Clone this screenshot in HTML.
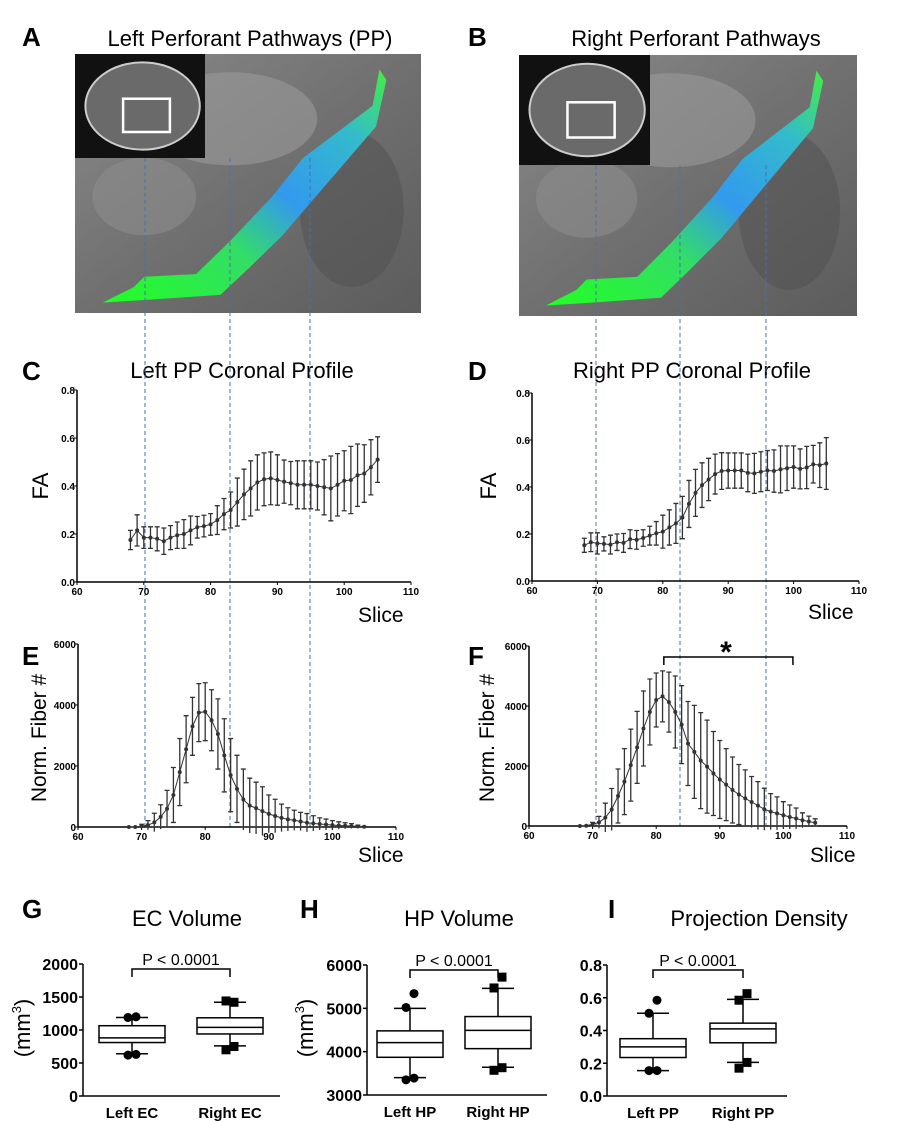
<!DOCTYPE html>
<html><head><meta charset="utf-8"><style>
html,body{margin:0;padding:0;background:#fff}
svg{display:block;font-family:"Liberation Sans",Arial,sans-serif}
</style></head><body>
<svg id="fig" width="918" height="1121" viewBox="0 0 918 1121" xmlns="http://www.w3.org/2000/svg">
<defs>
<linearGradient id="gm" x1="0" y1="0" x2="1" y2="1"><stop offset="0" stop-color="#8a8a8a"/><stop offset="0.5" stop-color="#707070"/><stop offset="1" stop-color="#5c5c5c"/></linearGradient>
<linearGradient id="fib" x1="0" y1="1" x2="1" y2="0"><stop offset="0" stop-color="#22ff22"/><stop offset="0.35" stop-color="#33dd66"/><stop offset="0.55" stop-color="#3399ee"/><stop offset="0.8" stop-color="#33bbcc"/><stop offset="1" stop-color="#44ee44"/></linearGradient>
</defs>
<g id="imgs"></g>
<g id="charts"></g>
</svg>
<script>
// ---- data ----
const slices = [68,69,70,71,72,73,74,75,76,77,78,79,80,81,82,83,84,85,86,87,88,89,90,91,92,93,94,95,96,97,98,99,100,101,102,103,104,105];
const leftFA = [0.175,0.215,0.185,0.185,0.18,0.17,0.185,0.195,0.2,0.215,0.228,0.233,0.24,0.258,0.283,0.3,0.333,0.365,0.39,0.415,0.428,0.432,0.425,0.418,0.412,0.405,0.405,0.405,0.4,0.395,0.39,0.405,0.422,0.425,0.445,0.452,0.478,0.51];
const leftFAsd = [0.04,0.065,0.045,0.045,0.05,0.055,0.05,0.055,0.06,0.06,0.045,0.045,0.045,0.06,0.065,0.075,0.1,0.105,0.115,0.115,0.11,0.11,0.105,0.09,0.09,0.1,0.1,0.1,0.1,0.115,0.135,0.13,0.125,0.14,0.13,0.12,0.115,0.095];
const rightFA = [0.152,0.165,0.16,0.158,0.155,0.165,0.162,0.178,0.175,0.183,0.193,0.203,0.21,0.228,0.245,0.27,0.328,0.375,0.408,0.432,0.455,0.468,0.47,0.47,0.47,0.46,0.458,0.465,0.47,0.468,0.475,0.48,0.485,0.477,0.483,0.497,0.493,0.5];
const rightFAsd = [0.03,0.04,0.045,0.03,0.04,0.035,0.04,0.04,0.04,0.035,0.04,0.05,0.07,0.075,0.085,0.09,0.1,0.1,0.095,0.09,0.085,0.078,0.075,0.075,0.075,0.08,0.085,0.085,0.085,0.09,0.1,0.095,0.09,0.085,0.09,0.08,0.095,0.11];
const leftFib = [0,0,30,60,150,330,600,1050,1800,2550,3300,3750,3780,3500,3050,2350,1700,1250,900,700,620,520,430,360,300,250,220,180,140,120,100,80,60,50,40,30,20,10];
const leftFibSd = [0,0,60,150,300,400,600,900,1100,1100,950,950,950,1000,1150,1200,1200,1100,1000,900,850,800,620,550,450,380,330,300,300,250,200,180,150,120,100,80,40,10];
const rightFib = [0,10,60,120,280,550,1000,1480,2030,2620,3250,3800,4200,4320,4130,3800,3380,2750,2470,2180,1980,1750,1550,1380,1200,1050,920,800,680,560,480,420,360,300,250,190,150,110];
const rightFibSd = [0,0,60,200,480,700,900,1100,1200,1200,1250,1100,900,850,1000,1200,1300,1400,1550,1600,1550,1400,1300,1200,1100,1000,950,850,800,700,600,550,450,400,350,250,180,130];
const xTicks = [60,70,80,90,100,110];
const faTicks = [0.0,0.2,0.4,0.6,0.8];
const fibTicks = [0,2000,4000,6000];
// box plots: [whiskerLow, q1, median, q3, whiskerHigh]
const ecBoxes = [[640,810,880,1065,1190],[760,940,1040,1185,1420]];
const ecOut = [[620,630,1190,1200],[700,750,1440,1420]];
const hpBoxes = [[3400,3870,4210,4480,5000],[3640,4070,4490,4810,5460]];
const hpOut = [[3350,3390,5020,5340],[3570,3630,5470,5720]];
const pdBoxes = [[0.155,0.235,0.3,0.35,0.505],[0.205,0.325,0.41,0.445,0.59]];
const pdOut = [[0.155,0.155,0.505,0.585],[0.17,0.205,0.585,0.625]];
const ecTicks = [0,500,1000,1500,2000];
const hpTicks = [3000,4000,5000,6000];
const pdTicks = [0.0,0.2,0.4,0.6,0.8];

const NS='http://www.w3.org/2000/svg';
const charts=document.getElementById('charts');
const imgs=document.getElementById('imgs');
function mk(tag,attrs,parent,text){const e=document.createElementNS(NS,tag);for(const k in attrs)e.setAttribute(k,attrs[k]);if(text!==undefined)e.textContent=text;(parent||charts).appendChild(e);return e;}

// ---- images ----
function brain(x,y,w,h,ix,iy,iw,ih,fx,name){
  const g=mk('g',{},imgs);
  
  
  mk('rect',{x:x,y:y,width:w,height:h,fill:'url(#gm)'},g);
  mk('ellipse',{cx:x+w*0.45,cy:y+h*0.25,rx:w*0.25,ry:h*0.18,fill:'#9a9a9a',opacity:0.6},g);
  mk('ellipse',{cx:x+w*0.8,cy:y+h*0.6,rx:w*0.15,ry:h*0.3,fill:'#505050',opacity:0.5},g);
  mk('ellipse',{cx:x+w*0.2,cy:y+h*0.55,rx:w*0.15,ry:h*0.15,fill:'#8c8c8c',opacity:0.6},g);
  const pts=fx.map(p=>(x+p[0]*w)+','+(y+p[1]*h)).join(' ');
  mk('polygon',{points:pts,fill:'url(#fib)'},g);
  mk('rect',{x:ix,y:iy,width:iw,height:ih,fill:'#111'},g);
  mk('ellipse',{cx:ix+iw*0.52,cy:iy+ih*0.5,rx:iw*0.44,ry:ih*0.42,fill:'#6a6a6a',stroke:'#ccc','stroke-width':2},g);
  mk('rect',{x:ix+iw*0.37,y:iy+ih*0.43,width:iw*0.36,height:ih*0.32,fill:'none',stroke:'#fff','stroke-width':2.5},g);
}
const fibShape=[[0.08,0.96],[0.17,0.9],[0.2,0.86],[0.35,0.85],[0.45,0.72],[0.57,0.55],[0.66,0.4],[0.76,0.3],[0.86,0.2],[0.88,0.06],[0.9,0.1],[0.87,0.28],[0.78,0.42],[0.69,0.56],[0.6,0.7],[0.5,0.83],[0.42,0.93],[0.2,0.95]];
brain(75,54,346,259,75,54,130,104,fibShape,'left-pp-image');
brain(519,55,338,261,519,55,131,110,fibShape,'right-pp-image');

// ---- labels ----
function label(txt,x,y,size,opts,name){
  const t=mk('text',Object.assign({x:x,y:y,'font-size':size,fill:'#000'},opts||{}),charts,txt);
  
  
  return t;
}
label('A',22,46,26,{'font-weight':'bold'},'panel-a-letter');
label('B',468,46,26,{'font-weight':'bold'},'panel-b-letter');
label('Left Perforant Pathways (PP)',250,46,22,{'text-anchor':'middle'},'panel-a-title');
label('Right Perforant Pathways',696,46,22,{'text-anchor':'middle'},'panel-b-title');
label('C',22,380,26,{'font-weight':'bold'},'panel-c-letter');
label('D',468,380,26,{'font-weight':'bold'},'panel-d-letter');
label('Left PP Coronal Profile',242,378,22,{'text-anchor':'middle'},'panel-c-title');
label('Right PP Coronal Profile',692,378,22,{'text-anchor':'middle'},'panel-d-title');
label('E',22,665,26,{'font-weight':'bold'},'panel-e-letter');
label('F',468,665,26,{'font-weight':'bold'},'panel-f-letter');
label('G',22,918,26,{'font-weight':'bold'},'panel-g-letter');
label('H',300,918,26,{'font-weight':'bold'},'panel-h-letter');
label('I',608,918,26,{'font-weight':'bold'},'panel-i-letter');
label('EC Volume',187,926,22,{'text-anchor':'middle'},'panel-g-title');
label('HP Volume',459,926,22,{'text-anchor':'middle'},'panel-h-title');
label('Projection Density',759,926,22,{'text-anchor':'middle'},'panel-i-title');

// ---- dashed guide lines ----
[[145,158,830],[230,158,830],[310,158,830],[596,165,826],[680,165,826],[766,165,826]].forEach(d=>{
  const l=mk('line',{x1:d[0],y1:d[1],x2:d[0],y2:d[2],stroke:'#4a6fb0','stroke-width':1,'stroke-dasharray':'4,3'});
  
  
});

// ---- line charts ----
function lineChart(cfg){
  const g=mk('g',{});
  
  
  const sx=v=>cfg.x0+(v-60)/(110-60)*(cfg.x1-cfg.x0);
  const sy=v=>cfg.y0-(v-cfg.ymin)/(cfg.ymax-cfg.ymin)*(cfg.y0-cfg.y1);
  mk('line',{x1:cfg.x0,y1:cfg.y0,x2:cfg.x1,y2:cfg.y0,stroke:'#000','stroke-width':1.5},g);
  mk('line',{x1:cfg.x0,y1:cfg.y0,x2:cfg.x0,y2:cfg.y1,stroke:'#000','stroke-width':1.5},g);
  xTicks.forEach(t=>{mk('line',{x1:sx(t),y1:cfg.y0,x2:sx(t),y2:cfg.y0+3,stroke:'#000'},g);
    const tt=mk('text',{x:sx(t),y:cfg.y0+13,'font-size':10,'font-weight':'bold','text-anchor':'middle'},g,String(t));
    });
  cfg.ticks.forEach(t=>{mk('line',{x1:cfg.x0-3,y1:sy(t),x2:cfg.x0,y2:sy(t),stroke:'#000'},g);
    const tt=mk('text',{x:cfg.x0-2,y:sy(t)+4,'font-size':10,'font-weight':'bold','text-anchor':'end'},g,cfg.fmt(t));
    });
  const xl=mk('text',{x:cfg.slx,y:cfg.sly,'font-size':21},g,'Slice');
  
  const yl=mk('text',{x:0,y:0,'font-size':cfg.ylsize,'text-anchor':'middle',transform:'translate('+cfg.ylx+','+cfg.yly+') rotate(-90)'},g,cfg.ylabel);
  
  cfg.xs.forEach((s,i)=>{
    const x=sx(s),m=cfg.ys[i],e=cfg.sd[i];
    if(e>0){
      const eb=mk('path',{d:'M'+x+','+sy(m-e)+'V'+sy(m+e)+'M'+(x-2.5)+','+sy(m+e)+'h5M'+(x-2.5)+','+sy(Math.max(cfg.ymin,m-e))+'h5',stroke:'#333','stroke-width':1.3,fill:'none'},g);
      
    }
  });
  const line=mk('polyline',{points:cfg.xs.map((s,i)=>sx(s)+','+sy(cfg.ys[i])).join(' '),fill:'none',stroke:'#333','stroke-width':1},g);
  
  cfg.xs.forEach((s,i)=>{const c=mk('circle',{cx:sx(s),cy:sy(cfg.ys[i]),r:2,fill:'#333'},g);
    });
  return {sx,sy,g};
}
const faFmt=t=>t.toFixed(1);
lineChart({name:'left-fa-chart',x0:77,x1:411,y0:582,y1:390,ymin:0,ymax:0.8,ticks:faTicks,fmt:faFmt,xs:slices,ys:leftFA,sd:leftFAsd,slx:358,sly:622,ylabel:'FA',ylsize:22,ylx:48,yly:486});
lineChart({name:'right-fa-chart',x0:532,x1:859,y0:581,y1:393,ymin:0,ymax:0.8,ticks:faTicks,fmt:faFmt,xs:slices,ys:rightFA,sd:rightFAsd,slx:808,sly:619,ylabel:'FA',ylsize:22,ylx:496,yly:486});
lineChart({name:'left-fiber-chart',x0:78,x1:396,y0:827,y1:644,ymin:0,ymax:6000,ticks:fibTicks,fmt:String,xs:slices,ys:leftFib,sd:leftFibSd,slx:358,sly:862,ylabel:'Norm. Fiber #',ylsize:21,ylx:46,yly:738});
const rf=lineChart({name:'right-fiber-chart',x0:529,x1:847,y0:826,y1:646,ymin:0,ymax:6000,ticks:fibTicks,fmt:String,xs:slices,ys:rightFib,sd:rightFibSd,slx:810,sly:862,ylabel:'Norm. Fiber #',ylsize:21,ylx:494,yly:738});
const br=mk('path',{d:'M'+rf.sx(81.2)+',665V657H'+rf.sx(101.5)+'V665',stroke:'#000','stroke-width':1.5,fill:'none'});

label('*',726,662,30,{'text-anchor':'middle','font-weight':'bold'},'significance-star');

// ---- box plots ----
function boxChart(cfg){
  const g=mk('g',{});
  
  
  const sy=v=>cfg.y0-(v-cfg.ymin)/(cfg.ymax-cfg.ymin)*(cfg.y0-cfg.y1);
  mk('line',{x1:cfg.ax,y1:cfg.y0,x2:cfg.axEnd,y2:cfg.y0,stroke:'#000','stroke-width':1.5},g);
  mk('line',{x1:cfg.ax,y1:cfg.y0,x2:cfg.ax,y2:cfg.y1,stroke:'#000','stroke-width':1.5},g);
  cfg.ticks.forEach(t=>{mk('line',{x1:cfg.ax-4,y1:sy(t),x2:cfg.ax,y2:sy(t),stroke:'#000','stroke-width':1.5},g);
    const tt=mk('text',{x:cfg.ax-5,y:sy(t)+6,'font-size':16,'font-weight':'bold','text-anchor':'end'},g,cfg.fmt(t));
    });
  if(cfg.ylabel){
    const yl=mk('text',{x:0,y:0,'font-size':22,'text-anchor':'middle',transform:'translate('+cfg.ylx+','+cfg.yly+') rotate(-90)'},g);
    
    yl.appendChild(document.createTextNode('(mm'));
    const sup=mk('tspan',{'font-size':13,dy:-9},yl,'3');
    mk('tspan',{'font-size':22,dy:9},yl,')');
  }
  const hw=33;
  cfg.boxes.forEach((b,i)=>{
    const cx=cfg.cx[i];
    const bg=mk('g',{},g);
    
    
    mk('path',{d:'M'+cx+','+sy(b[0])+'V'+sy(b[1])+'M'+cx+','+sy(b[3])+'V'+sy(b[4])+'M'+(cx-16)+','+sy(b[0])+'h32M'+(cx-16)+','+sy(b[4])+'h32',stroke:'#000','stroke-width':1.5,fill:'none'},bg);
    mk('rect',{x:cx-hw,y:sy(b[3]),width:2*hw,height:sy(b[1])-sy(b[3]),fill:'#fff',stroke:'#000','stroke-width':1.5},bg);
    mk('line',{x1:cx-hw,y1:sy(b[2]),x2:cx+hw,y2:sy(b[2]),stroke:'#000','stroke-width':1.5},bg);
    cfg.outs[i].forEach((o,j)=>{
      const ox=cx+(j%2===0?-4:4);
      let m;
      if(i===0) m=mk('circle',{cx:ox,cy:sy(o),r:4.5,fill:'#000'},bg);
      else m=mk('rect',{x:ox-4.5,y:sy(o)-4.5,width:9,height:9,fill:'#000'},bg);
      
    });
    const cl=mk('text',{x:cx,y:cfg.y0+22,'font-size':15,'font-weight':'bold','text-anchor':'middle'},g,cfg.cats[i]);
    
  });
  const bk=mk('path',{d:'M'+cfg.cx[0]+','+(cfg.y1+13)+'V'+(cfg.y1+5)+'H'+cfg.cx[1]+'V'+(cfg.y1+13),stroke:'#000','stroke-width':1.5,fill:'none'},g);
  
  const pt=mk('text',{x:(cfg.cx[0]+cfg.cx[1])/2,y:cfg.y1+1,'font-size':16,'text-anchor':'middle'},g,'P < 0.0001');
  
}
boxChart({name:'ec-volume-chart',ax:83,axEnd:280,y0:1096,y1:964,ymin:0,ymax:2000,ticks:ecTicks,fmt:String,boxes:ecBoxes,outs:ecOut,cx:[132,230],cats:['Left EC','Right EC'],ylabel:true,ylx:30,yly:1028});
boxChart({name:'hp-volume-chart',ax:367,axEnd:547,y0:1095,y1:965,ymin:3000,ymax:6000,ticks:hpTicks,fmt:String,boxes:hpBoxes,outs:hpOut,cx:[410,498],cats:['Left HP','Right HP'],ylabel:true,ylx:313,yly:1028});
boxChart({name:'projection-density-chart',ax:607,axEnd:787,y0:1096,y1:965,ymin:0,ymax:0.8,ticks:pdTicks,fmt:t=>t.toFixed(1),boxes:pdBoxes,outs:pdOut,cx:[653,743],cats:['Left PP','Right PP'],ylabel:false});
</script>
</body></html>
